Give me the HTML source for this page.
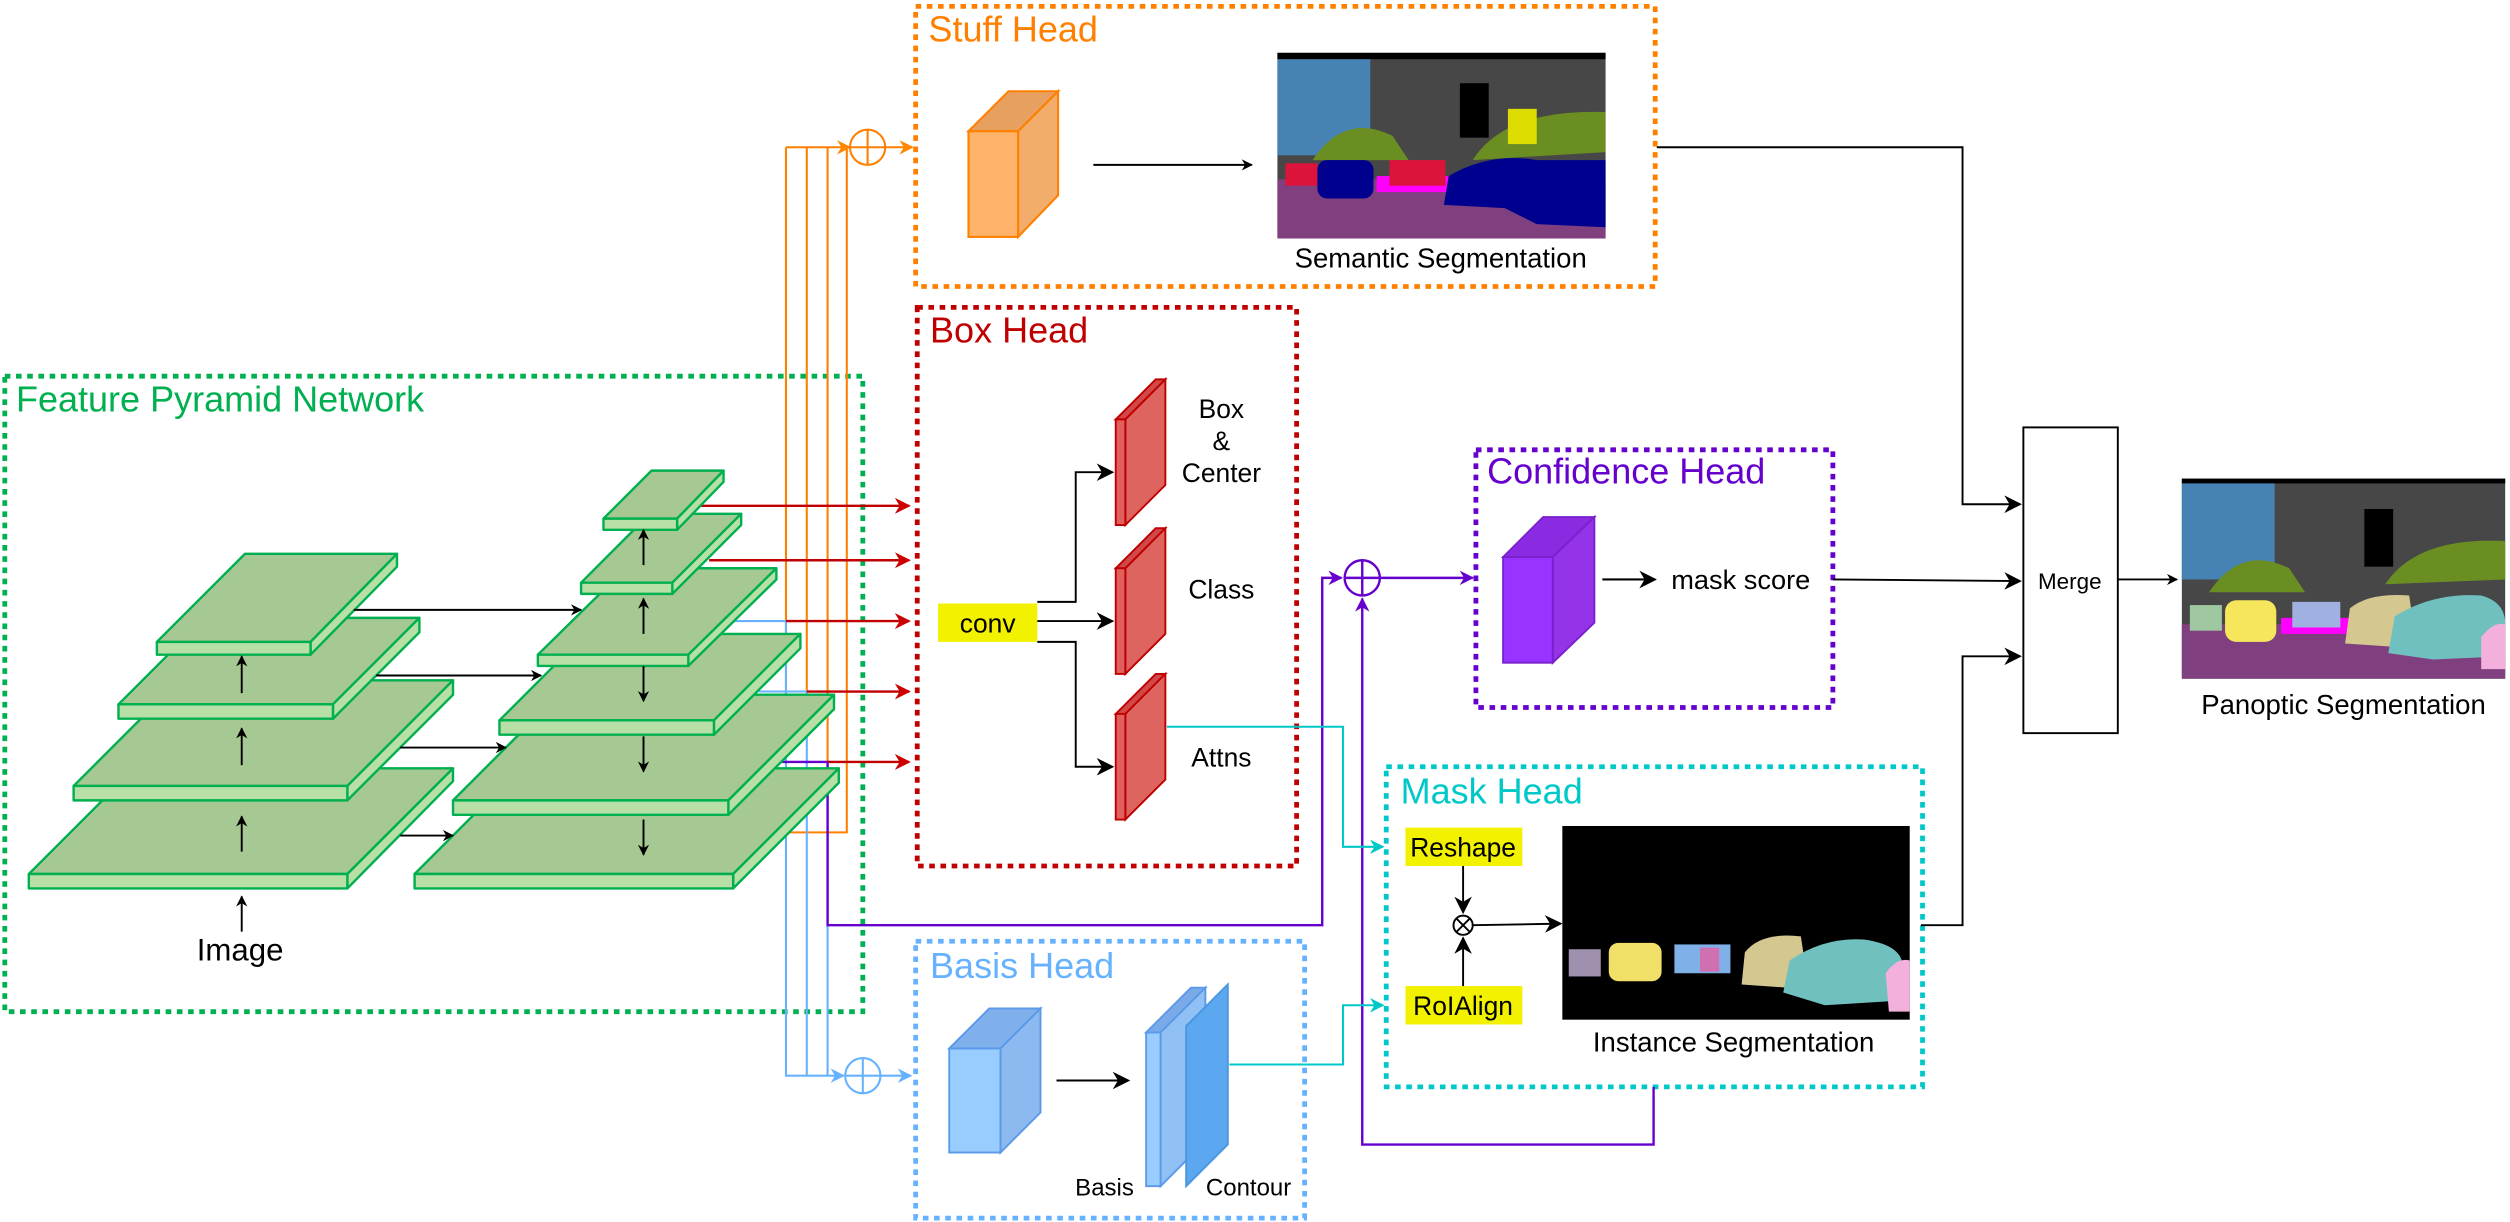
<!DOCTYPE html>
<html><head><meta charset="utf-8"><style>
html,body{margin:0;padding:0;background:#fff;}
svg{display:block;}
text{font-family:"Liberation Sans",sans-serif;}
</style></head><body>
<svg width="2510" height="1222" viewBox="0 0 1568 763.4" preserveAspectRatio="none" xmlns="http://www.w3.org/2000/svg">
<defs>
<marker id="ak" viewBox="0 0 10 10" refX="9" refY="5" markerWidth="7" markerHeight="7" orient="auto" markerUnits="userSpaceOnUse"><path d="M0,0 L10,5 L0,10 L3,5z" fill="#000"/></marker>
<marker id="ar" viewBox="0 0 10 10" refX="9" refY="5" markerWidth="10" markerHeight="10" orient="auto" markerUnits="userSpaceOnUse"><path d="M0,0 L10,5 L0,10 L3,5z" fill="#c00"/></marker>
<marker id="ao" viewBox="0 0 10 10" refX="9" refY="5" markerWidth="9" markerHeight="9" orient="auto" markerUnits="userSpaceOnUse"><path d="M0,0 L10,5 L0,10 L3,5z" fill="#f80"/></marker>
<marker id="ab" viewBox="0 0 10 10" refX="9" refY="5" markerWidth="9" markerHeight="9" orient="auto" markerUnits="userSpaceOnUse"><path d="M0,0 L10,5 L0,10 L3,5z" fill="#66b2ff"/></marker>
<marker id="ap" viewBox="0 0 10 10" refX="9" refY="5" markerWidth="9" markerHeight="9" orient="auto" markerUnits="userSpaceOnUse"><path d="M0,0 L10,5 L0,10 L3,5z" fill="#6600cc"/></marker>
<marker id="ac" viewBox="0 0 10 10" refX="9" refY="5" markerWidth="9" markerHeight="9" orient="auto" markerUnits="userSpaceOnUse"><path d="M0,0 L10,5 L0,10 L3,5z" fill="#00c8c8"/></marker>
<marker id="ak2" viewBox="0 0 10 10" refX="9" refY="5" markerWidth="11" markerHeight="11" orient="auto" markerUnits="userSpaceOnUse"><path d="M0,0 L10,5 L0,10 L3,5z" fill="#000"/></marker>
</defs>

<g fill="none" stroke-width="3" stroke-dasharray="3.5 3.5">
<rect x="3" y="235" width="536" height="397" stroke="#00b050"/>
<rect x="572" y="4" width="462" height="175" stroke="#ff8000"/>
<rect x="573" y="192" width="237" height="349" stroke="#c00000"/>
<rect x="922" y="281" width="223" height="161" stroke="#6600cc"/>
<rect x="866" y="479" width="335" height="200" stroke="#00c8c8"/>
<rect x="572" y="588" width="243" height="173" stroke="#66b2ff"/>
</g>
<g font-size="22.5">
<text x="10" y="257" fill="#00b050">Feature Pyramid Network</text>
<text x="580" y="26" fill="#ff8000">Stuff Head</text>
<text x="581" y="214" fill="#c00000">Box Head</text>
<text x="929" y="302" fill="#6600cc">Confidence Head</text>
<text x="875" y="502" fill="#00c8c8">Mask Head</text>
<text x="581" y="611" fill="#66b2ff">Basis Head</text>
</g>

<g fill="none" stroke="#ff8000" stroke-width="1.3">
<path d="M491,92 V520 H529 V92"/>
<path d="M504,92 V432"/><path d="M517,92 V476"/>
<path d="M491,92 H531" marker-end="url(#ao)"/>
<circle cx="542" cy="92" r="11"/><path d="M531,92 H553 M542,81 V103"/>
<path d="M553,92 H570" marker-end="url(#ao)"/>
</g>
<g fill="none" stroke="#66b2ff" stroke-width="1.3">
<path d="M457,388 H491 V672 H527" marker-end="url(#ab)"/>
<path d="M474,432 H504 V672"/>
<path d="M517,480 V672"/>
<circle cx="539" cy="672" r="11"/><path d="M528,672 H550 M539,661 V683"/>
<path d="M550,672 H569" marker-end="url(#ab)"/>
</g>
<g fill="none" stroke="#6600cc" stroke-width="1.5">
<path d="M485,476 H517 V578 H826 V361 H838" marker-end="url(#ap)"/>
<circle cx="851" cy="361" r="11"/><path d="M840,361 H862 M851,350 V372"/>
<path d="M1033,679 V715 H851 V374" marker-end="url(#ap)"/>
<path d="M862,361 H920" marker-end="url(#ap)"/>
</g>
<g fill="none" stroke="#c00000" stroke-width="1.5">
<path d="M438,316 H568" marker-end="url(#ar)"/>
<path d="M443,350 H568" marker-end="url(#ar)"/>
<path d="M491,388 H568" marker-end="url(#ar)"/>
<path d="M504,432 H568" marker-end="url(#ar)"/>
<path d="M517,476 H568" marker-end="url(#ar)"/>
</g>

<g stroke="#00b050" stroke-width="1.5" stroke-linejoin="round">
<g><polygon points="18,546 217,546 283,480 84,480" fill="#a6c893"/><polygon points="217,546 283,480 283,488 217,555" fill="#b8e0a6"/><rect x="18" y="546" width="199" height="9" fill="#b8e0a6"/></g>
<g><polygon points="46,491 217,491 283,425 112,425" fill="#a6c893"/><polygon points="217,491 283,425 283,434 217,500" fill="#b8e0a6"/><rect x="46" y="491" width="171" height="9" fill="#b8e0a6"/></g>
<g><polygon points="74,440 208,440 262,386 128,386" fill="#a6c893"/><polygon points="208,440 262,386 262,395 208,449" fill="#b8e0a6"/><rect x="74" y="440" width="134" height="9" fill="#b8e0a6"/></g>
<g><polygon points="98,401 194,401 248,346 153,346" fill="#a6c893"/><polygon points="194,401 248,346 248,354 194,409" fill="#b8e0a6"/><rect x="98" y="401" width="96" height="8" fill="#b8e0a6"/></g>
<g><polygon points="259,546 458,546 524,480 325,480" fill="#a6c893"/><polygon points="458,546 524,480 524,489 458,555" fill="#b8e0a6"/><rect x="259" y="546" width="199" height="9" fill="#b8e0a6"/></g>
<g><polygon points="283,500 455,500 521,434 349,434" fill="#a6c893"/><polygon points="455,500 521,434 521,443 455,509" fill="#b8e0a6"/><rect x="283" y="500" width="172" height="9" fill="#b8e0a6"/></g>
<g><polygon points="312,450 446,450 500,396 366,396" fill="#a6c893"/><polygon points="446,450 500,396 500,405 446,459" fill="#b8e0a6"/><rect x="312" y="450" width="134" height="9" fill="#b8e0a6"/></g>
<g><polygon points="336,409 430,409 485,355 391,355" fill="#a6c893"/><polygon points="430,409 485,355 485,362 430,416" fill="#b8e0a6"/><rect x="336" y="409" width="94" height="7" fill="#b8e0a6"/></g>
<g><polygon points="363,364 420,364 463,321 406,321" fill="#a6c893"/><polygon points="420,364 463,321 463,328 420,371" fill="#b8e0a6"/><rect x="363" y="364" width="57" height="7" fill="#b8e0a6"/></g>
<g><polygon points="377,324 423,324 452,294 407,294" fill="#a6c893"/><polygon points="423,324 452,294 452,301 423,331" fill="#b8e0a6"/><rect x="377" y="324" width="46" height="7" fill="#b8e0a6"/></g>
</g>
<g stroke="#000" stroke-width="1.2" fill="none">
<path d="M151,532 V510" marker-end="url(#ak)"/>
<path d="M151,478 V455" marker-end="url(#ak)"/>
<path d="M151,433 V410" marker-end="url(#ak)"/>
<path d="M151,582 V560" marker-end="url(#ak)"/>
<path d="M402,353 V331" marker-end="url(#ak)"/>
<path d="M402,396 V374" marker-end="url(#ak)"/>
<path d="M402,416 V438" marker-end="url(#ak)"/>
<path d="M402,460 V482" marker-end="url(#ak)"/>
<path d="M402,512 V534" marker-end="url(#ak)"/>
<path d="M221,381 H363" marker-end="url(#ak)"/>
<path d="M235,422 H338" marker-end="url(#ak)"/>
<path d="M250,467 H316" marker-end="url(#ak)"/>
<path d="M250,522 H283" marker-end="url(#ak)"/>
</g>
<text x="150" y="600" font-size="19.5" text-anchor="middle">Image</text>

<g stroke="#ff8000" stroke-width="1.3">
<polygon points="605,82 630,57 661,57 636,82" fill="#e8a060"/>
<polygon points="636,82 661,57 661,122 636,148" fill="#f2ad6a"/>
<rect x="605" y="82" width="31" height="66" fill="#ffb36b"/>
</g>
<path d="M683,103 H782" stroke="#000" stroke-width="1.2" marker-end="url(#ak)"/>
<g>
<rect x="798" y="33" width="205" height="116" fill="#474747"/>
<rect x="798" y="33" width="205" height="4" fill="#000"/>
<rect x="798" y="37" width="58" height="60" fill="#4682b4"/>
<rect x="912" y="52" width="18" height="34" fill="#000"/>
<path d="M820,100 Q840,70 870,85 L880,100Z" fill="#6b8e23"/>
<path d="M920,100 Q940,68 1003,70 L1003,95Z" fill="#6b8e23"/>
<rect x="942" y="68" width="18" height="22" fill="#dcdc00"/>
<rect x="798" y="112" width="205" height="37" fill="#80407f"/>
<rect x="860" y="110" width="45" height="10" fill="#ff00ff"/>
<rect x="803" y="102" width="20" height="14" fill="#dc143c"/>
<rect x="868" y="100" width="35" height="16" fill="#dc143c"/>
<rect x="823" y="100" width="35" height="24" rx="6" fill="#00008e"/>
<path d="M902,128 L905,110 Q930,95 960,100 L1003,100 L1003,142 L960,140 L940,130Z" fill="#00008e"/>
</g>
<text x="900" y="167" font-size="17.2" text-anchor="middle">Semantic Segmentation</text>

<g stroke="#c00000" stroke-width="1.2" fill="#e06060">
<polygon points="697,262 722,237 728,237 703,262" fill="#d04848"/>
<polygon points="703,262 728,237 728,303 703,328" fill="#de6460"/>
<rect x="697" y="262" width="6" height="66"/>
<polygon points="697,355 722,330 728,330 703,355" fill="#d04848"/>
<polygon points="703,355 728,330 728,396 703,421" fill="#de6460"/>
<rect x="697" y="355" width="6" height="66"/>
<polygon points="697,446 722,421 728,421 703,446" fill="#d04848"/>
<polygon points="703,446 728,421 728,487 703,512" fill="#de6460"/>
<rect x="697" y="446" width="6" height="66"/>
</g>
<g font-size="16.5" text-anchor="middle">
<text x="763" y="261">Box</text><text x="763" y="281">&amp;</text><text x="763" y="301">Center</text>
<text x="763" y="374">Class</text><text x="763" y="479">Attns</text>
</g>
<rect x="586" y="377" width="62" height="24" fill="#f2f200"/>
<text x="617" y="395" font-size="16.5" text-anchor="middle">conv</text>
<g stroke="#000" stroke-width="1.2" fill="none">
<path d="M648,376 H672 V295 H695" marker-end="url(#ak2)"/>
<path d="M648,388 H695" marker-end="url(#ak2)"/>
<path d="M648,401 H672 V479 H695" marker-end="url(#ak2)"/>
</g>
<path d="M729,454 H839 V529 H864" fill="none" stroke="#00c8c8" stroke-width="1.3" marker-end="url(#ac)"/>
<path d="M768,665 H839 V628 H864" fill="none" stroke="#00c8c8" stroke-width="1.3" marker-end="url(#ac)"/>

<g stroke="#7a20cc" stroke-width="1.2">
<polygon points="939,348 964,323 996,323 970,348" fill="#8a2be2"/>
<polygon points="970,348 996,323 996,389 970,414" fill="#9433e8"/>
<rect x="939" y="348" width="31" height="66" fill="#9933ff"/>
</g>
<path d="M1001,362 H1034" stroke="#000" stroke-width="1.3" marker-end="url(#ak2)"/>
<text x="1044" y="368" font-size="17">mask score</text>

<rect x="878" y="517" width="73" height="24" fill="#f2f200"/>
<text x="914" y="535" font-size="16.5" text-anchor="middle">Reshape</text>
<rect x="878" y="616" width="73" height="24" fill="#f2f200"/>
<text x="914" y="634" font-size="16.5" text-anchor="middle">RoIAlign</text>
<g stroke="#000" stroke-width="1.2" fill="none">
<path d="M914,541 V570" marker-end="url(#ak2)"/>
<path d="M914,616 V586" marker-end="url(#ak2)"/>
<circle cx="914" cy="578" r="6" fill="#fff"/><path d="M910,574 L918,582 M918,574 L910,582"/>
<path d="M920,578 L975,577" marker-end="url(#ak2)"/>
</g>
<rect x="976" y="516" width="217" height="121" fill="#000"/>
<g>
<rect x="1005" y="589" width="33" height="24" rx="6" fill="#f0e068"/>
<rect x="980" y="593" width="20" height="17" fill="#a090b0"/>
<rect x="1046" y="590" width="35" height="18" fill="#80b0e8"/>
<rect x="1062" y="592" width="12" height="15" fill="#d070b0"/>
<path d="M1088,615 L1090,595 Q1100,582 1125,585 L1130,618Z" fill="#d4c890"/>
<path d="M1114,620 L1118,600 Q1140,585 1165,587 Q1185,590 1188,600 L1188,625 L1140,628Z" fill="#70c0c0"/>
<path d="M1180,632 L1178,608 Q1185,598 1193,600 L1193,632Z" fill="#f4b0dc"/>
</g>
<text x="1083" y="657" font-size="17.2" text-anchor="middle">Instance Segmentation</text>

<g stroke="#5a9ae8" stroke-width="1.2">
<polygon points="593,655 618,630 650,630 625,655" fill="#80b0ec"/>
<polygon points="625,655 650,630 650,695 625,720" fill="#8cbaf0"/>
<rect x="593" y="655" width="32" height="65" fill="#99ccff"/>
<polygon points="716,645 744,617 753,617 725,645" fill="#7aaae8"/>
<polygon points="725,645 753,617 753,713 725,741" fill="#90c0f4"/>
<rect x="716" y="645" width="9" height="96" fill="#99ccff"/>
<polygon points="741,641 767,615 767,715 741,741" fill="#5ca8f0" stroke="#4a96e0"/>
</g>
<path d="M660,675 H705" stroke="#000" stroke-width="1.3" marker-end="url(#ak2)"/>
<text x="690" y="747" font-size="15" text-anchor="middle">Basis</text>
<text x="780" y="747" font-size="15" text-anchor="middle">Contour</text>

<g stroke="#000" stroke-width="1.2" fill="none">
<path d="M1035,92 H1226 V315 H1262" marker-end="url(#ak2)"/>
<path d="M1145,362 L1262,363" marker-end="url(#ak2)"/>
<path d="M1200,578 H1226 V410 H1262" marker-end="url(#ak2)"/>
<rect x="1264" y="267" width="59" height="191" fill="#fff"/>
<path d="M1323,362 H1360" marker-end="url(#ak)"/>
</g>
<text x="1293" y="368" font-size="14" text-anchor="middle">Merge</text>
<g>
<rect x="1363" y="299" width="202" height="125" fill="#474747"/>
<rect x="1363" y="299" width="202" height="3" fill="#000"/>
<rect x="1363" y="302" width="58" height="60" fill="#4682b4"/>
<rect x="1477" y="318" width="18" height="36" fill="#000"/>
<path d="M1380,370 Q1400,340 1430,355 L1440,370Z" fill="#6b8e23"/>
<path d="M1490,365 Q1510,335 1565,338 L1565,362Z" fill="#6b8e23"/>
<rect x="1363" y="390" width="202" height="34" fill="#80407f"/>
<rect x="1425" y="386" width="45" height="10" fill="#ff00ff"/>
<rect x="1390" y="375" width="32" height="26" rx="7" fill="#f5e65c"/>
<rect x="1368" y="378" width="20" height="16" fill="#a0c8a0"/>
<rect x="1432" y="376" width="30" height="16" fill="#a0b0e0"/>
<path d="M1465,402 L1468,380 Q1480,370 1505,372 L1510,405Z" fill="#d4c890"/>
<path d="M1492,408 L1496,385 Q1520,370 1550,372 Q1565,376 1565,390 L1565,410 L1520,412Z" fill="#70c0c0"/>
<path d="M1550,418 L1550,398 Q1558,388 1565,390 L1565,418Z" fill="#f4b0dc"/>
</g>
<text x="1464" y="446" font-size="17.2" text-anchor="middle">Panoptic Segmentation</text>
</svg>
</body></html>
